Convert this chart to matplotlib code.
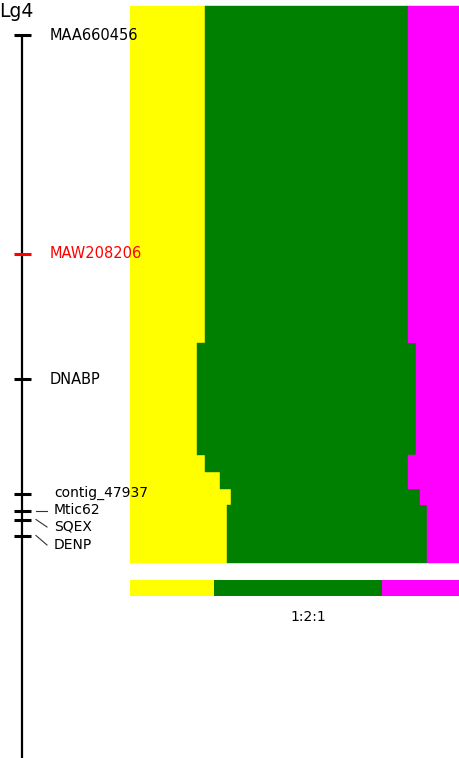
import matplotlib.pyplot as plt
import numpy as np

# linkage group Lg4: markers and positions (cM)
markers = ['MAA660456', 'MAW208206', 'DNABP', 'contig_47937', 'Mtic62', 'SQEX', 'DENP']
positions = [0.0, 43.8, 68.8, 91.8, 95.1, 96.9, 100.1]
marker_colors = ['black', 'red', 'black', 'black', 'black', 'black', 'black']

# genotype class frequencies (%) along the group: A / H / B
seg_start = [-5.8, 61.6, 84.0, 87.4, 90.8, 94.0]
seg_end = [61.6, 84.0, 87.4, 90.8, 94.0, 105.6]
freq_A = [22.3, 19.9, 22.2, 26.8, 30.0, 29.0]
freq_H = [60.5, 65.2, 60.6, 56.0, 56.3, 59.5]
freq_B = [17.2, 14.9, 17.2, 17.2, 13.7, 11.5]

# expected segregation ratio
expected = [1, 2, 1]
expected_label = '1:2:1'
geno_colors = ['#FFFF00', '#008000', '#FF00FF']

W, H = 460, 758
fig = plt.figure(figsize=(W / 100, H / 100), dpi=100)
ylim = (144.6, -7.0)

# right: genotype frequency bands (drawn underneath the labels)
ax = fig.add_axes([130 / W, 0, 336 / W, 1])
ax.set_xlim(0, 100)
ax.set_ylim(*ylim)
ax.axis('off')

starts = np.array(seg_start)
heights = np.array(seg_end) - starts
left = np.zeros(len(starts))
for vals, col in zip([freq_A, freq_H, freq_B], geno_colors):
    vals = np.array(vals)
    ax.barh(starts, vals, height=heights, left=left, align='edge',
            color=col, edgecolor=col, linewidth=0.3)
    left += vals

# expected ratio bar
exp = np.array(expected, dtype=float)
exp = exp / exp.sum() * 100
l = 0.0
for v, col in zip(exp, geno_colors):
    ax.barh(109.0, v, height=3.2, left=l, align='edge', color=col, linewidth=0)
    l += v
ax.text(53, 116.4, expected_label, fontsize=10, ha='center', va='center')

# left: map axis, on top so marker names can run over the bands
ax_map = fig.add_axes([0, 0, 130 / W, 1])
ax_map.set_zorder(3)
ax_map.patch.set_alpha(0)
ax_map.set_xlim(0, 130)
ax_map.set_ylim(*ylim)
ax_map.axis('off')

ax_map.plot([22.5, 22.5], [positions[0], 160], color='black', lw=1.6, solid_capstyle='butt')
for p, c in zip(positions, marker_colors):
    ax_map.plot([14, 31], [p, p], color=c, lw=2.2, solid_capstyle='butt')

# label placement (upper markers directly, lower cluster spread out)
label_y = [0.0, 43.8, 68.8, 91.6, 95.1, 98.4, 102.0]
label_x = [50, 50, 50, 54, 54, 54, 54]
for i, (name, p) in enumerate(zip(markers, positions)):
    ax_map.text(label_x[i], label_y[i], name, color=marker_colors[i],
                fontsize=10.5 if i < 3 else 10, va='center', ha='left', clip_on=False)
    if i >= 4:
        ax_map.plot([36, 47], [p, label_y[i]], color='#333333', lw=0.8)

ax_map.text(-1, -3.6, 'Lg4', fontsize=13.5, va='baseline', ha='left')

fig.savefig('out.png', dpi=100)
